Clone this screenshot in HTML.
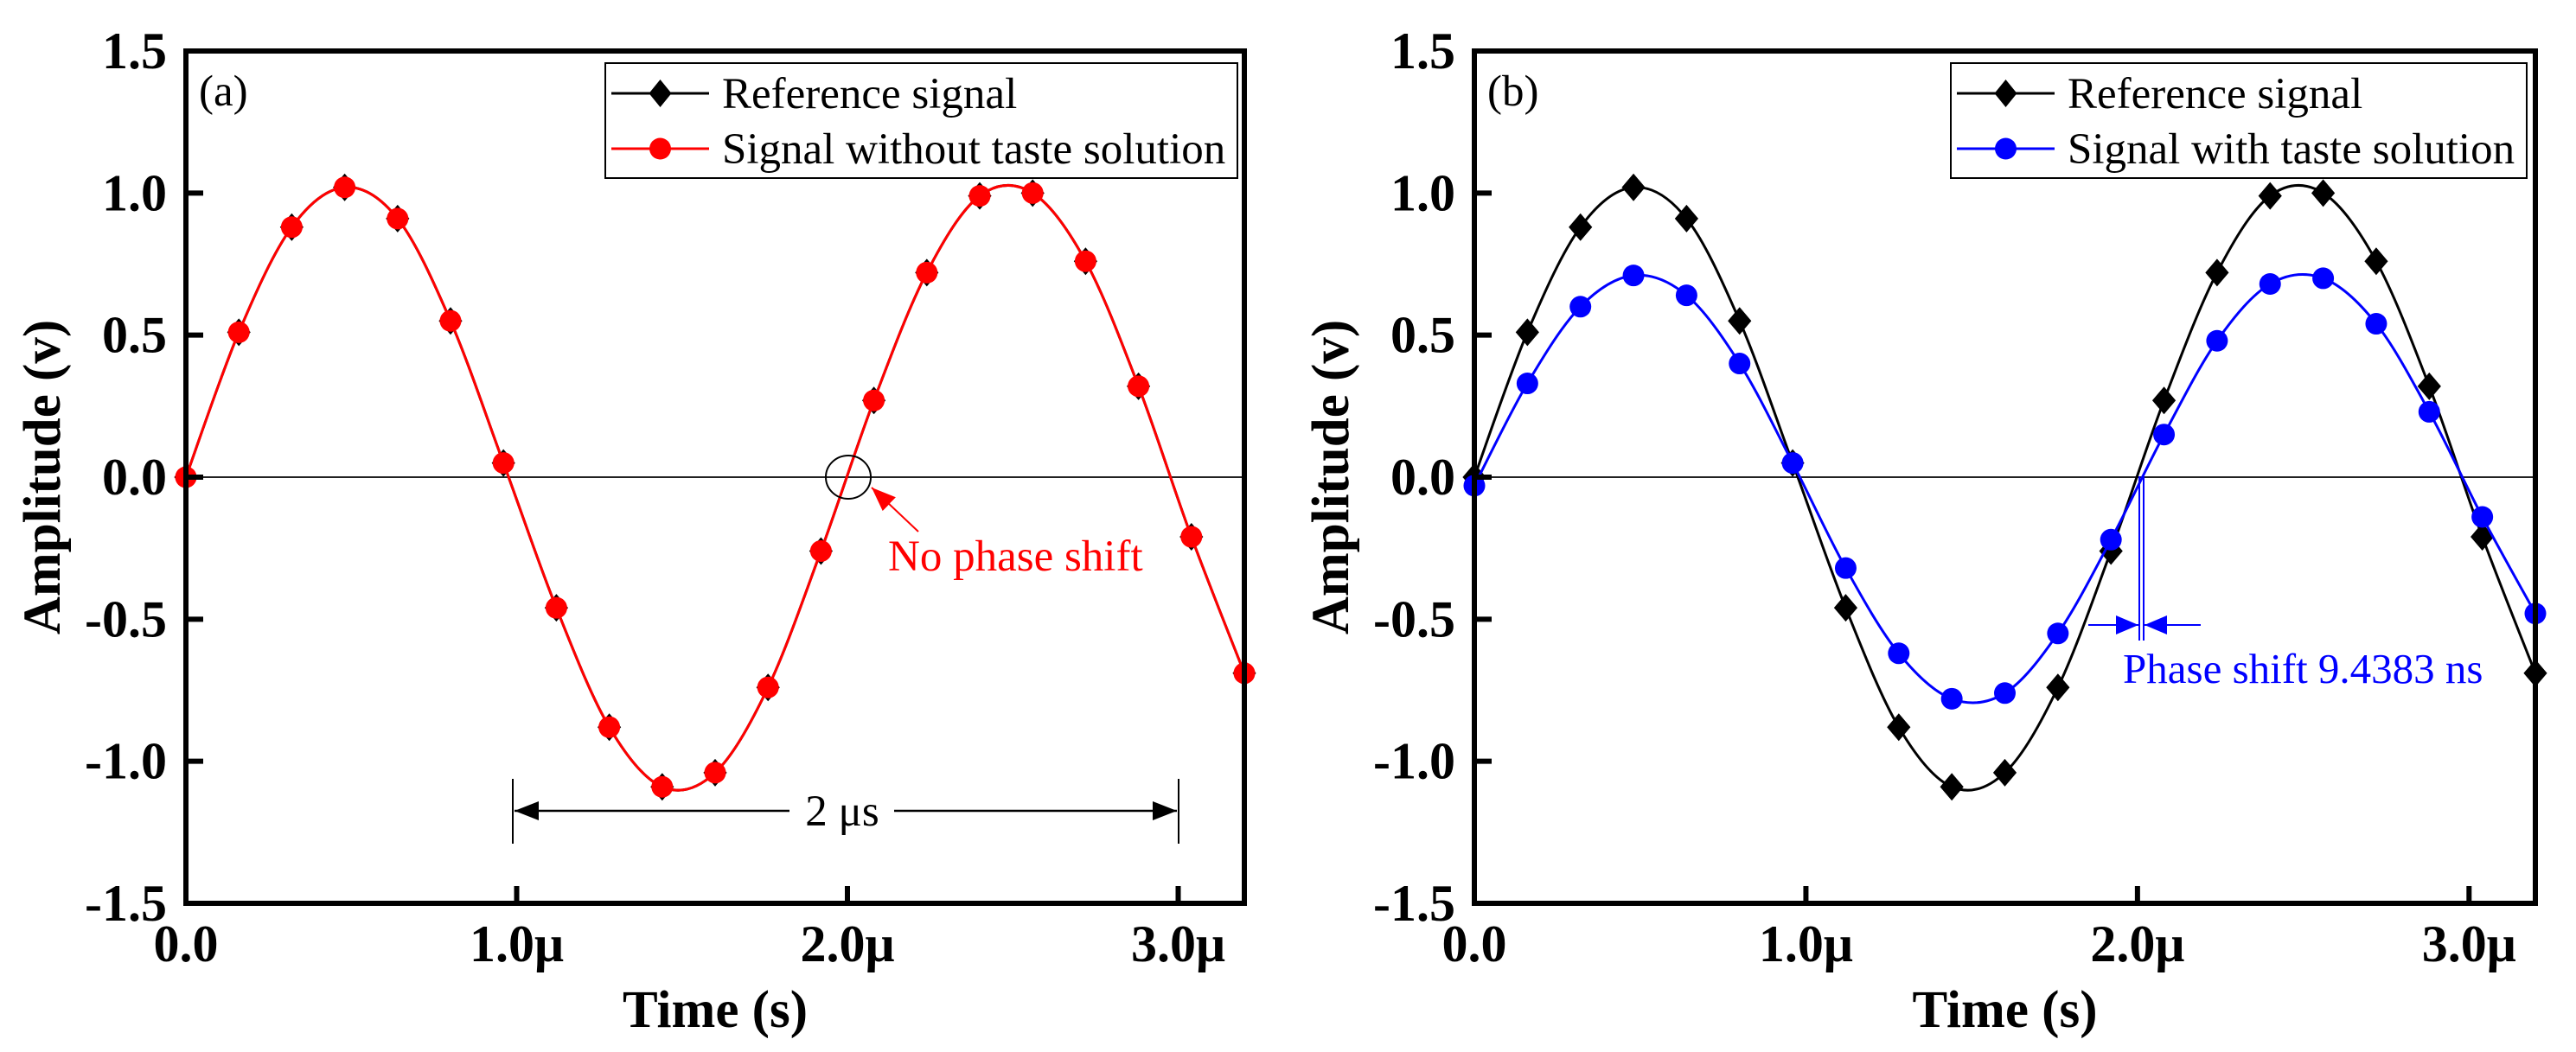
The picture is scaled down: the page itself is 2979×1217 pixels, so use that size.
<!DOCTYPE html>
<html><head><meta charset="utf-8"><style>
html,body{margin:0;padding:0;background:#fff;}
svg{display:block;font-family:"Liberation Serif","Times New Roman",serif;}
</style></head><body>
<svg id="fig" width="2979" height="1217" viewBox="0 0 2979 1217" xmlns="http://www.w3.org/2000/svg"></svg>
<script>
const times = [0,0.16,0.32,0.48,0.64,0.8,0.96,1.12,1.28,1.44,1.6,1.76,1.92,2.08,2.24,2.4,2.56,2.72,2.88,3.04,3.2];
const refSignal = [0,0.51,0.88,1.02,0.91,0.55,0.05,-0.46,-0.88,-1.09,-1.04,-0.74,-0.26,0.27,0.72,0.99,1.00,0.76,0.32,-0.21,-0.69];
const withoutTaste = [0,0.51,0.88,1.02,0.91,0.55,0.05,-0.46,-0.88,-1.09,-1.04,-0.74,-0.26,0.27,0.72,0.99,1.00,0.76,0.32,-0.21,-0.69];
const withTaste = [-0.03,0.33,0.60,0.71,0.64,0.40,0.05,-0.32,-0.62,-0.78,-0.76,-0.55,-0.22,0.15,0.48,0.68,0.70,0.54,0.23,-0.14,-0.48];
const xTicks = [0,1,2,3];
const xTickLabels = ["0.0","1.0μ","2.0μ","3.0μ"];
const yTicks = [-1.5,-1.0,-0.5,0,0.5,1.0,1.5];
const yTickLabels = ["-1.5","-1.0","-0.5","0.0","0.5","1.0","1.5"];

const NS="http://www.w3.org/2000/svg";
const svg=document.getElementById('fig');
function mk(tag,attrs,parent,text){const e=document.createElementNS(NS,tag);for(const k in attrs)e.setAttribute(k,attrs[k]);if(text!==undefined)e.textContent=text;(parent||svg).appendChild(e);return e;}

function catmull(pts){
  let d='M'+pts[0][0]+','+pts[0][1];
  for(let i=0;i<pts.length-1;i++){
    const p0=pts[i-1]||pts[i],p1=pts[i],p2=pts[i+1],p3=pts[i+2]||p2;
    const c1x=p1[0]+(p2[0]-p0[0])/6,c1y=p1[1]+(p2[1]-p0[1])/6;
    const c2x=p2[0]-(p3[0]-p1[0])/6,c2y=p2[1]-(p3[1]-p1[1])/6;
    d+=' C'+c1x+','+c1y+' '+c2x+','+c2y+' '+p2[0]+','+p2[1];
  }
  return d;
}

function panel(opt){
  const L=opt.left,R=opt.right,T=59,B=1045;
  const X=t=>L+(t-0)/3.2*(R-L);
  const Y=v=>T+(1.5-v)/3*(B-T);
  const g=mk('g',{});
  
  
  const z=mk('line',{x1:L,x2:R,y1:Y(0),y2:Y(0),stroke:'#222','stroke-width':2},g);
  
  
  opt.series.forEach(s=>{
    const pts=times.map((t,i)=>[X(t),Y(s.vals[i])]);
    const p=mk('path',{d:catmull(pts),fill:'none',stroke:s.color,'stroke-width':3},g);
    
    
    pts.forEach(q=>{
      let m;
      if(s.marker==='diamond'){
        const r=16;
        m=mk('polygon',{points:`${q[0]},${q[1]-r} ${q[0]+r*0.85},${q[1]} ${q[0]},${q[1]+r} ${q[0]-r*0.85},${q[1]}`,fill:s.color},g);
      } else {
        m=mk('circle',{cx:q[0],cy:q[1],r:12.5,fill:s.color},g);
      }
      
      
    });
  });
  const f=mk('rect',{x:L,y:T,width:R-L,height:B-T,fill:'none',stroke:'#000','stroke-width':6},g);
  
  
  xTicks.forEach((t,i)=>{
    const tk=mk('line',{x1:X(t),x2:X(t),y1:B,y2:B-20,stroke:'#000','stroke-width':6},g);
    
    
    const tl=mk('text',{x:X(t),y:1112,'text-anchor':'middle','font-size':60,'font-weight':'bold'},g,xTickLabels[i]);
    
    
  });
  yTicks.forEach((v,i)=>{
    const tk=mk('line',{x1:L,x2:L+20,y1:Y(v),y2:Y(v),stroke:'#000','stroke-width':6},g);
    
    
    const tl=mk('text',{x:L-22,y:Y(v)+20,'text-anchor':'end','font-size':60,'font-weight':'bold'},g,yTickLabels[i]);
    
    
  });
  const xt=mk('text',{x:(L+R)/2,y:1188,'text-anchor':'middle','font-size':61,'font-weight':'bold'},g,'Time (s)');
  
  
  const yt=mk('text',{x:0,y:0,'text-anchor':'middle','font-size':61,'font-weight':'bold',transform:`translate(${L-146},${(T+B)/2}) rotate(-90)`},g,'Amplitude (v)');
  
  
  const pl=mk('text',{x:L+15,y:122,'font-size':51},g,opt.label);
  
  
  const lg=mk('g',{},g);
  
  
  mk('rect',{x:opt.lx,y:73,width:opt.lw,height:133,fill:'#fff',stroke:'#000','stroke-width':2},lg);
  opt.series.forEach((s,i)=>{
    const yy=108+i*64, x0=opt.lx+7, x1=opt.lx+120, xm=(x0+x1)/2;
    const e=mk('g',{},lg);
    
    
    mk('line',{x1:x0,x2:x1,y1:yy,y2:yy,stroke:s.color,'stroke-width':3},e);
    if(s.marker==='diamond') mk('polygon',{points:`${xm},${yy-16} ${xm+13},${yy} ${xm},${yy+16} ${xm-13},${yy}`,fill:s.color},e);
    else mk('circle',{cx:xm,cy:yy,r:12.5,fill:s.color},e);
    mk('text',{x:opt.lx+135,y:yy+17,'font-size':51},e,s.label);
  });
  return {X,Y,g};
}

const A=panel({name:'panel-a',left:215,right:1439,label:'(a)',lx:700,lw:731,
  series:[{name:'reference',vals:refSignal,color:'#000',marker:'diamond',label:'Reference signal'},
          {name:'without-taste',vals:withoutTaste,color:'#ff0000',marker:'circle',label:'Signal without taste solution'}]});
const Bp=panel({name:'panel-b',left:1705,right:2932,label:'(b)',lx:2256,lw:666,
  series:[{name:'reference',vals:refSignal,color:'#000',marker:'diamond',label:'Reference signal'},
          {name:'with-taste',vals:withTaste,color:'#0000ff',marker:'circle',label:'Signal with taste solution'}]});

const defs=mk('defs',{});
const m1=mk('marker',{id:'ah',markerWidth:28,markerHeight:22,refX:28,refY:11,orient:'auto',markerUnits:'userSpaceOnUse'},defs);
mk('path',{d:'M0,0 L28,11 L0,22 Z',fill:'#000'},m1);
const m2=mk('marker',{id:'ahr',markerWidth:28,markerHeight:22,refX:28,refY:11,orient:'auto',markerUnits:'userSpaceOnUse'},defs);
mk('path',{d:'M0,0 L28,11 L0,22 Z',fill:'#ff0000'},m2);
const m3=mk('marker',{id:'ahb',markerWidth:26,markerHeight:22,refX:26,refY:11,orient:'auto',markerUnits:'userSpaceOnUse'},defs);
mk('path',{d:'M0,0 L26,11 L0,22 Z',fill:'#0000ff'},m3);

const an=mk('g',{});


mk('ellipse',{cx:981,cy:552,rx:26,ry:25,fill:'none',stroke:'#000','stroke-width':2},an);
mk('line',{x1:1062,y1:615,x2:1008,y2:564,stroke:'#ff0000','stroke-width':2,'marker-end':'url(#ahr)'},an);
mk('text',{x:1027,y:660,'font-size':51,fill:'#ff0000'},an,'No phase shift');
mk('line',{x1:593,x2:593,y1:901,y2:976,stroke:'#000','stroke-width':2},an);
mk('line',{x1:1363,x2:1363,y1:901,y2:976,stroke:'#000','stroke-width':2},an);
mk('line',{x1:913,x2:595,y1:938,y2:938,stroke:'#000','stroke-width':2.5,'marker-end':'url(#ah)'},an);
mk('line',{x1:1034,x2:1361,y1:938,y2:938,stroke:'#000','stroke-width':2.5,'marker-end':'url(#ah)'},an);
mk('text',{x:974,y:955,'text-anchor':'middle','font-size':51},an,'2 μs');

const bn=mk('g',{});


mk('line',{x1:2474,x2:2474,y1:551,y2:741,stroke:'#0000ff','stroke-width':2},bn);
mk('line',{x1:2479,x2:2479,y1:551,y2:741,stroke:'#0000ff','stroke-width':2},bn);
mk('line',{x1:2415,x2:2473,y1:723,y2:723,stroke:'#0000ff','stroke-width':2,'marker-end':'url(#ahb)'},bn);
mk('line',{x1:2545,x2:2480,y1:723,y2:723,stroke:'#0000ff','stroke-width':2,'marker-end':'url(#ahb)'},bn);
mk('text',{x:2455,y:790,'font-size':49,fill:'#0000ff'},bn,'Phase shift 9.4383 ns');
</script>
</body></html>
